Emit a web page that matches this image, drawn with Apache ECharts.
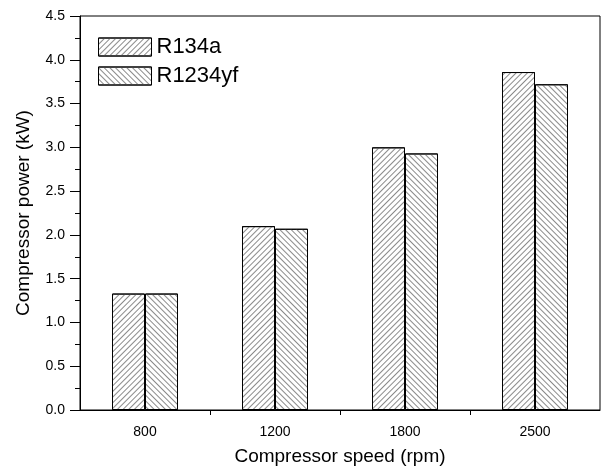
<!DOCTYPE html>
<html>
<head>
<meta charset="utf-8">
<script src="https://cdn.jsdelivr.net/npm/echarts@6/dist/echarts.min.js"></script>
<style>
  html, body { margin: 0; padding: 0; background: #fff; }
  #chart { width: 601px; height: 471px; }
</style>
</head>
<body>
<div id="chart"></div>
<script>
const speeds = ['800', '1200', '1800', '2500']
const r134a = [1.33, 2.10, 3.00, 3.86]
const r1234yf = [1.33, 2.07, 2.93, 3.72]
const yTicks = [0, 0.5, 1.0, 1.5, 2.0, 2.5, 3.0, 3.5, 4.0, 4.5]

const font = 'Liberation Sans, Arial, sans-serif'

// hatch fill for each refrigerant
function hatch (angle) {
  return {
    symbol: 'rect',
    symbolSize: 1,
    color: '#8a8a8a',
    dashArrayX: [1, 0],
    dashArrayY: [1, 2.8],
    rotation: angle
  }
}

const chart = echarts.init(document.getElementById('chart'))

chart.setOption({
  animation: false,
  textStyle: { fontFamily: font, color: '#000' },
  grid: {
    left: 80, right: 1, top: 16, bottom: 60,
    show: true, borderColor: '#000', borderWidth: 1
  },
  legend: {
    orient: 'vertical',
    left: 98, top: 36,
    padding: 0,
    itemWidth: 53, itemHeight: 18, itemGap: 7,
    icon: 'rect',
    itemStyle: { borderWidth: 1, borderColor: '#000' },
    textStyle: { fontSize: 22, fontFamily: font, color: '#000' },
    data: ['R134a', 'R1234yf']
  },
  xAxis: [
    {
      type: 'category',
      data: speeds,
      name: 'Compressor speed (rpm)',
      nameLocation: 'middle',
      nameGap: 37,
      nameTextStyle: { fontSize: 19, color: '#000' },
      axisLine: { lineStyle: { color: '#000', width: 1 } },
      axisTick: { alignWithLabel: true, length: 9, lineStyle: { color: '#000' } },
      axisLabel: { fontSize: 14, color: '#000', margin: 15 }
    },
    {
      // short ticks between the speed groups
      type: 'category',
      boundaryGap: false,
      data: ['0', '1', '2', '3', '4', '5', '6', '7', '8'],
      position: 'bottom',
      axisLine: { show: false },
      axisLabel: { show: false },
      axisTick: {
        length: 5,
        interval: (i) => i % 2 === 0 && i > 0 && i < 8,
        lineStyle: { color: '#000' }
      }
    }
  ],
  yAxis: {
    type: 'value',
    min: yTicks[0],
    max: yTicks[yTicks.length - 1],
    interval: 0.5,
    name: 'Compressor power (kW)',
    nameLocation: 'middle',
    nameGap: 47,
    nameTextStyle: { fontSize: 19, color: '#000' },
    axisLine: { show: true, lineStyle: { color: '#000', width: 1 } },
    axisTick: { show: true, length: 10, lineStyle: { color: '#000' } },
    minorTick: { show: true, splitNumber: 2, length: 5, lineStyle: { color: '#000' } },
    splitLine: { show: false },
    axisLabel: {
      fontSize: 14, color: '#000', margin: 15,
      formatter: (v) => v.toFixed(1)
    }
  },
  series: [
    {
      name: 'R134a',
      type: 'bar',
      xAxisIndex: 0,
      data: r134a,
      barWidth: 33,
      barGap: '0%',
      itemStyle: { color: '#fff', borderColor: '#000', borderWidth: 1, decal: hatch(-Math.PI / 4) }
    },
    {
      name: 'R1234yf',
      type: 'bar',
      xAxisIndex: 0,
      data: r1234yf,
      barWidth: 33,
      barGap: '0%',
      itemStyle: { color: '#fff', borderColor: '#000', borderWidth: 1, decal: hatch(Math.PI / 4) }
    }
  ]
})
</script>
</body>
</html>
